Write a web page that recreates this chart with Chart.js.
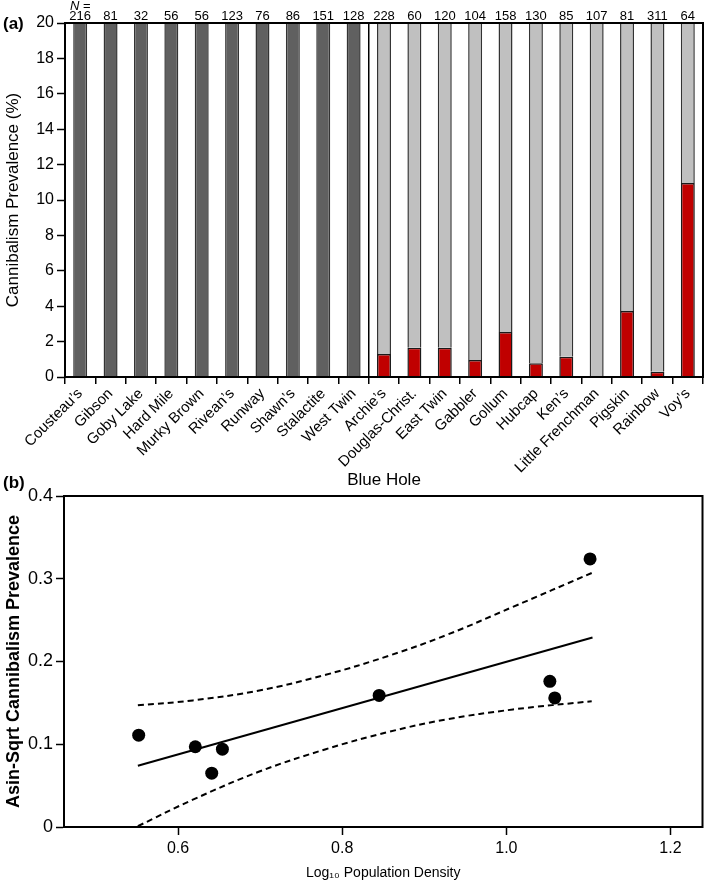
<!DOCTYPE html>
<html>
<head>
<meta charset="utf-8">
<script src="https://cdn.jsdelivr.net/npm/chart.js@4.4.0/dist/chart.umd.min.js"></script>
<style>
  html, body { margin: 0; padding: 0; background: #fff; overflow: hidden; }
  #wrap { position: relative; width: 709px; height: 882px; }
  .panel { position: absolute; left: 0; width: 709px; }
  #panelA { top: 0; height: 494px; }
  #panelB { top: 470px; height: 412px; }
  .tag { position: absolute; left: 3px; font: bold 17px 'Liberation Sans', Arial, sans-serif; color: #000; }
</style>
</head>
<body>
<div id="wrap">
  <div class="panel" id="panelA"><canvas id="chartA" width="709" height="494"></canvas></div>
  <div class="panel" id="panelB"><canvas id="chartB" width="709" height="412"></canvas></div>
  <div class="tag" style="top: 14px">(a)</div>
  <div class="tag" style="top: 473px">(b)</div>
</div>
<script>
// panel (a): prevalence per blue hole
const sites = [
  'Cousteau’s', 'Gibson', 'Goby Lake', 'Hard Mile', 'Murky Brown', 'Rivean’s',
  'Runway', 'Shawn’s', 'Stalactite', 'West Twin', 'Archie’s', 'Douglas-Christ.',
  'East Twin', 'Gabbler', 'Gollum', 'Hubcap', 'Ken’s', 'Little Frenchman',
  'Pigskin', 'Rainbow', 'Voy’s',
];
const sampleSizes = [216, 81, 32, 56, 56, 123, 76, 86, 151, 128, 228, 60, 120, 104, 158, 130, 85, 107, 81, 311, 64];
const cannibalismPct = [0, 0, 0, 0, 0, 0, 0, 0, 0, 0, 1.3, 1.65, 1.65, 0.96, 2.54, 0.77, 1.15, 0, 3.73, 0.3, 10.96];
const firstGroupSize = 10;

// panel (b): regression on density
const densityLog = [0.552, 0.621, 0.641, 0.654, 0.845, 1.053, 1.059, 1.102];
const prevalenceAsin = [0.111, 0.097, 0.065, 0.094, 0.159, 0.176, 0.156, 0.324];
const fitX = [0.551, 1.105];
const fitY = [0.074, 0.229];
const bandX = [0.551, 0.618, 0.699, 0.780, 0.857, 0.927, 1.008, 1.104];
const upperY = [0.147, 0.153, 0.165, 0.184, 0.207, 0.232, 0.266, 0.307];
const lowerY = [0.001, 0.033, 0.067, 0.094, 0.115, 0.130, 0.142, 0.152];
const densityTicks = [0.6, 0.8, 1.0, 1.2];

const sans = "'Liberation Sans', Arial, sans-serif";
const narrow = "'Liberation Sans Narrow', 'Liberation Sans', Arial, sans-serif";
Chart.defaults.font.family = sans;
Chart.defaults.color = '#000';

// box round the plot area
const frame = {
  id: 'frame',
  afterDatasetsDraw(chart) {
    const { ctx, chartArea: a } = chart;
    ctx.save();
    ctx.strokeStyle = '#000';
    ctx.lineWidth = 2;
    ctx.strokeRect(a.left, a.top, a.right - a.left, a.bottom - a.top);
    ctx.restore();
  },
};

// N labels above each bar
const sampleSizeLabels = {
  id: 'sampleSizeLabels',
  afterDraw(chart) {
    const { ctx, chartArea, scales: { x } } = chart;
    ctx.save();
    ctx.fillStyle = '#000';
    ctx.textBaseline = 'alphabetic';
    ctx.font = '13px ' + sans;
    ctx.textAlign = 'center';
    sampleSizes.forEach((n, i) => {
      ctx.fillText(String(n), x.getPixelForValue(i), chartArea.top - 3);
    });
    // "N =" over the first bar
    const x0 = x.getPixelForValue(0);
    ctx.textAlign = 'left';
    ctx.font = 'italic 13px ' + sans;
    const wN = ctx.measureText('N').width;
    ctx.font = '13px ' + sans;
    const wEq = ctx.measureText(' =').width;
    const start = x0 - (wN + wEq) / 2;
    ctx.font = 'italic 13px ' + sans;
    ctx.fillText('N', start, 10);
    ctx.font = '13px ' + sans;
    ctx.fillText(' =', start + wN, 10);
    ctx.restore();
  },
};

new Chart(document.getElementById('chartA'), {
  type: 'bar',
  data: {
    labels: sites,
    datasets: [
      {
        label: 'Cannibalism',
        data: cannibalismPct,
        backgroundColor: '#c00000',
        borderColor: '#1a1a1a',
        borderWidth: 1.5,
        clip: 0,
      },
      {
        label: 'No cannibalism',
        data: cannibalismPct.map((v) => 100 - v),
        backgroundColor: sites.map((s, i) => (i < firstGroupSize ? '#606060' : '#c0c0c0')),
        borderColor: '#333',
        borderWidth: 1.5,
        clip: 0,
      },
    ],
  },
  options: {
    responsive: false,
    animation: false,
    layout: { padding: { top: 23, right: 6, left: 0, bottom: 0 } },
    plugins: { legend: { display: false }, tooltip: { enabled: false } },
    datasets: { bar: { categoryPercentage: 1, barPercentage: 0.46 } },
    scales: {
      x: {
        stacked: true,
        grid: {
          offset: true,
          drawOnChartArea: true,
          color: (c) => (c.index === firstGroupSize ? '#000' : 'rgba(0,0,0,0)'),
          lineWidth: 1.5,
          tickColor: '#000',
          tickLength: 7,
          tickWidth: 1.5,
        },
        border: { color: '#000', width: 2 },
        ticks: { color: '#000', font: { size: 15 }, minRotation: 45, maxRotation: 45, autoSkip: false, padding: 1 },
        title: { display: true, text: 'Blue Hole', color: '#000', font: { size: 17 }, padding: { top: 0, bottom: 3 } },
        afterFit: (s) => { s.height = 117; },
      },
      y: {
        stacked: true,
        min: 0,
        max: 20,
        ticks: { stepSize: 2, color: '#000', font: { size: 16 }, padding: 3 },
        grid: { drawOnChartArea: false, tickColor: '#000', tickLength: 8, tickWidth: 1.5 },
        border: { color: '#000', width: 2 },
        title: { display: true, text: 'Cannibalism Prevalence (%)', color: '#000', font: { size: 17 }, padding: { top: 3, bottom: 0 } },
        afterFit: (s) => { s.width = 65; },
      },
    },
  },
  plugins: [frame, sampleSizeLabels],
});

const pts = (xs, ys) => xs.map((x, i) => ({ x, y: ys[i] }));

new Chart(document.getElementById('chartB'), {
  type: 'scatter',
  data: {
    datasets: [
      { data: pts(densityLog, prevalenceAsin), backgroundColor: '#000', borderWidth: 0, pointRadius: 6.5 },
      { data: pts(fitX, fitY), showLine: true, borderColor: '#000', borderWidth: 2, pointRadius: 0 },
      {
        data: pts(bandX, upperY), showLine: true, borderColor: '#000', borderWidth: 2,
        borderDash: [6, 4], pointRadius: 0, tension: 0.4,
      },
      {
        data: pts(bandX, lowerY), showLine: true, borderColor: '#000', borderWidth: 2,
        borderDash: [6, 4], pointRadius: 0, tension: 0.4,
      },
    ],
  },
  options: {
    responsive: false,
    animation: false,
    layout: { padding: { top: 26, right: 6, left: 0, bottom: 0 } },
    plugins: { legend: { display: false }, tooltip: { enabled: false } },
    scales: {
      x: {
        type: 'linear',
        min: 0.461,
        max: 1.239,
        afterBuildTicks: (s) => { s.ticks = densityTicks.map((v) => ({ value: v })); },
        ticks: { color: '#000', font: { size: 16, family: narrow }, padding: 4, callback: (v) => v.toFixed(1) },
        grid: { drawOnChartArea: false, tickColor: '#000', tickLength: 8, tickWidth: 1.5 },
        border: { color: '#000', width: 2 },
        title: { display: true, text: 'Log₁₀ Population Density', color: '#000', font: { size: 14, family: narrow }, padding: { top: 0, bottom: 0 } },
        afterFit: (s) => { s.height = 55; },
      },
      y: {
        min: 0,
        max: 0.4,
        ticks: { stepSize: 0.1, color: '#000', font: { size: 18 }, padding: 3, callback: (v) => (v === 0 ? '0' : v.toFixed(1)) },
        grid: { drawOnChartArea: false, tickColor: '#000', tickLength: 8, tickWidth: 1.5 },
        border: { color: '#000', width: 2 },
        title: { display: true, text: 'Asin-Sqrt Cannibalism Prevalence', color: '#000', font: { size: 18, weight: 'bold' }, padding: { top: 3, bottom: 0 } },
        afterFit: (s) => { s.width = 64; },
      },
    },
  },
  plugins: [frame],
});
</script>
</body>
</html>
